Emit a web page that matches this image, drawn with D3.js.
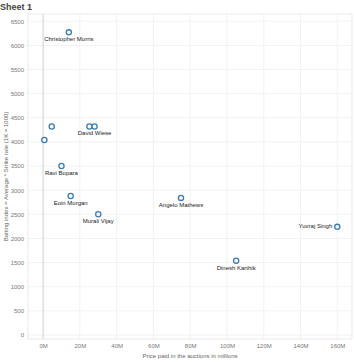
<!DOCTYPE html>
<html>
<head>
<meta charset="utf-8">
<script src="https://cdn.jsdelivr.net/npm/d3@7"></script>
<style>
  body { margin: 0; background: #fff; }
  text { font-family: Arial, "Liberation Sans", sans-serif; }
</style>
</head>
<body>
<div id="container"></div>
<script>
let w = 354;
let h = 362;

// DATA
let players = ["Christopher Morris", "", "", "", "David Wiese", "Ravi Bopara", "Eoin Morgan",
  "Murali Vijay", "Angelo Mathews", "Yuvraj Singh", "Dinesh Karthik"];
let prices = [14, 4.7, 0.7, 25.2, 28, 10, 15, 30, 75, 160, 105];          // millions
let battingIndex = [6270, 4320, 4040, 4320, 4320, 3500, 2880, 2500, 2840, 2240, 1540];
let labelSide = ["below", "none", "none", "none", "below", "below", "below", "below", "below", "left", "below"];
let xTicks = [0, 20, 40, 60, 80, 100, 120, 140, 160];
let yTicks = [0, 500, 1000, 1500, 2000, 2500, 3000, 3500, 4000, 4500, 5000, 5500, 6000, 6500];

let plotL = 28, plotR = 352, plotT = 14, plotB = 339;

let viz = d3.select("#container").append("svg")
    .attr("width", w)
    .attr("height", h)
    .style("background-color", "white")
;

// SCALES
let xScale = d3.scaleLinear().domain([-8.2, 168]).range([plotL, plotR]);
let yScale = d3.scaleLinear().domain([-83, 6650]).range([plotB, plotT]);

// title
viz.append("text")
  .attr("x", 0).attr("y", 9.5)
  .attr("font-size", 9).attr("font-weight", "bold")
  .attr("fill", "#444")
  .text("Sheet 1");

// gridlines
viz.selectAll(".hgrid").data(yTicks).enter()
  .append("line")
    .attr("class", "hgrid")
    .attr("x1", plotL).attr("x2", plotR)
    .attr("y1", d => yScale(d)).attr("y2", d => yScale(d))
    .attr("stroke", "#efefef").attr("stroke-width", 0.8);
viz.selectAll(".vgrid").data(xTicks.filter(d => d != 0)).enter()
  .append("line")
    .attr("class", "vgrid")
    .attr("x1", d => xScale(d)).attr("x2", d => xScale(d))
    .attr("y1", plotT).attr("y2", plotB)
    .attr("stroke", "#efefef").attr("stroke-width", 0.8);

// zero line
viz.append("line")
  .attr("x1", xScale(0)).attr("x2", xScale(0))
  .attr("y1", plotT).attr("y2", plotB)
  .attr("stroke", "#cfcfcf").attr("stroke-width", 1);

// frame
viz.append("rect")
  .attr("x", plotL).attr("y", plotT)
  .attr("width", plotR - plotL).attr("height", plotB - plotT)
  .attr("fill", "none").attr("stroke", "#e3e3e3").attr("stroke-width", 0.8);

// AXES
let yAxis = d3.axisLeft(yScale).tickValues(yTicks).tickSize(0).tickPadding(4)
  .tickFormat(d3.format("d"));
viz.append("g").attr("transform", "translate(" + plotL + ",0)").call(yAxis)
  .call(g => g.select(".domain").remove())
  .selectAll("text").attr("font-size", 6).attr("fill", "#777")
  .attr("font-family", "Arial, 'Liberation Sans', sans-serif");

let xAxis = d3.axisBottom(xScale).tickValues(xTicks).tickSize(0).tickPadding(5)
  .tickFormat(d => d + "M");
viz.append("g").attr("transform", "translate(0," + plotB + ")").call(xAxis)
  .call(g => g.select(".domain").remove())
  .selectAll("text").attr("font-size", 6).attr("fill", "#777")
  .attr("font-family", "Arial, 'Liberation Sans', sans-serif");

// axis titles
viz.append("text")
  .attr("x", (plotL + plotR) / 2).attr("y", 358)
  .attr("text-anchor", "middle")
  .attr("font-size", 6).attr("fill", "#666")
  .text("Price paid in the auctions in millions");
viz.append("text")
  .attr("transform", "translate(8," + ((plotT + plotB) / 2) + ") rotate(-90)")
  .attr("text-anchor", "middle")
  .attr("font-size", 6).attr("fill", "#666")
  .text("Batting index = Average * Strike rate (1K = 1000)");

// POINTS
let data = players.map((p, i) => ({ name: p, price: prices[i], bi: battingIndex[i], side: labelSide[i] }));

viz.selectAll(".pt").data(data).enter()
  .append("circle")
    .attr("class", "pt")
    .attr("cx", d => xScale(d.price))
    .attr("cy", d => yScale(d.bi))
    .attr("r", 2.6)
    .attr("fill", "#f4f8fb")
    .attr("stroke", "#3f7cad")
    .attr("stroke-width", 1.3);

viz.selectAll(".lbl").data(data.filter(d => d.side != "none")).enter()
  .append("text")
    .attr("class", "lbl")
    .attr("x", d => d.side == "left" ? xScale(d.price) - 5 : xScale(d.price))
    .attr("y", d => d.side == "left" ? yScale(d.bi) + 1 : yScale(d.bi) + 9)
    .attr("text-anchor", d => d.side == "left" ? "end" : "middle")
    .attr("font-size", 6)
    .attr("fill", "#222")
    .text(d => d.name);
</script>
</body>
</html>
